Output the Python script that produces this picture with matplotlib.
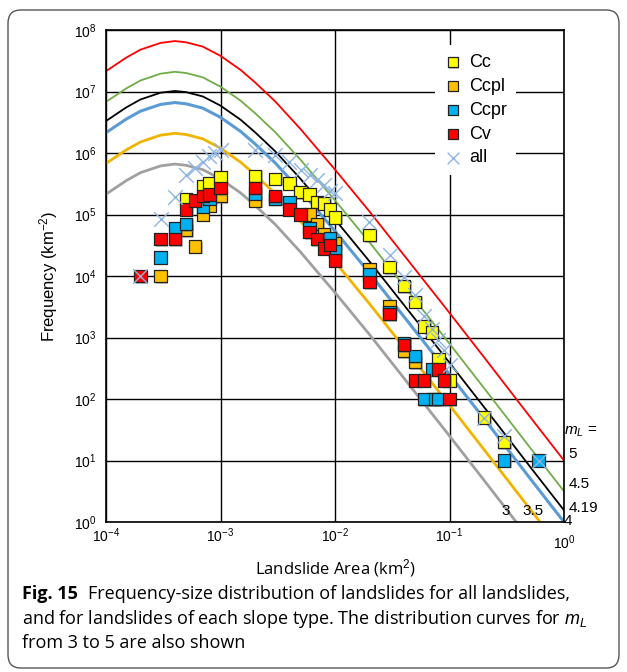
import matplotlib
matplotlib.use('Agg')
import matplotlib.pyplot as plt
import matplotlib.patheffects as pe
import matplotlib.transforms as mtransforms
from matplotlib.patches import FancyBboxPatch

plt.rcParams['font.family'] = ['Liberation Sans', 'DejaVu Sans']
plt.rcParams['mathtext.fontset'] = 'custom'
plt.rcParams['mathtext.rm'] = 'Liberation Sans'
plt.rcParams['mathtext.it'] = 'Liberation Sans:italic'

# distribution curves (m_L = 3 ... 5)
curve_x = [1e-4, 1.5e-4, 2e-4, 3e-4, 4e-4, 5e-4, 7e-4, 1e-3, 1.5e-3, 2e-3,
           3e-3, 5e-3, 1e-2, 2e-2, 5e-2, 0.1, 0.2, 0.5, 1.0]
curve_m5 = [2.14e7, 3.55e7, 4.79e7, 6.17e7, 6.61e7, 6.31e7, 5.37e7, 3.80e7, 2.24e7, 1.41e7,
            6.92e6, 2.45e6, 5.37e5, 1.12e5, 1.29e4, 2.51e3, 479, 52.5, 10]
curve_m45 = [6.77e6, 1.12e7, 1.51e7, 1.95e7, 2.09e7, 2.0e7, 1.70e7, 1.20e7, 7.08e6, 4.46e6,
             2.19e6, 7.75e5, 1.70e5, 3.54e4, 4.08e3, 794, 151, 16.6, 3.16]
curve_m419 = [3.31e6, 5.50e6, 7.42e6, 9.56e6, 1.02e7, 9.77e6, 8.32e6, 5.89e6, 3.47e6, 2.18e6,
              1.07e6, 3.80e5, 8.32e4, 1.73e4, 2.0e3, 389, 74.2, 8.13, 1.55]
curve_m4 = [2.14e6, 3.55e6, 4.79e6, 6.17e6, 6.61e6, 6.31e6, 5.37e6, 3.80e6, 2.24e6, 1.41e6,
            6.92e5, 2.45e5, 5.37e4, 1.12e4, 1.29e3, 251, 47.9, 5.25, 1.0]
curve_m35 = [6.77e5, 1.12e6, 1.51e6, 1.95e6, 2.09e6, 2.0e6, 1.70e6, 1.20e6, 7.08e5, 4.46e5,
             2.19e5, 7.75e4, 1.70e4, 3.54e3, 408, 79.4, 15.1, 1.66, 0.316]
curve_m3 = [2.14e5, 3.55e5, 4.79e5, 6.17e5, 6.61e5, 6.31e5, 5.37e5, 3.80e5, 2.24e5, 1.41e5,
            6.92e4, 2.45e4, 5.37e3, 1.12e3, 129, 25.1, 4.79, 0.525, 0.1]

# landslide data per slope type
cc_x = [5e-4, 7e-4, 8e-4, 1e-3, 2e-3, 3e-3, 4e-3, 5e-3, 6e-3, 7e-3, 8e-3, 9e-3, 1e-2,
        2e-2, 3e-2, 4e-2, 5e-2, 6e-2, 7e-2, 8e-2, 1e-1, 2e-1, 3e-1]
cc_y = [1.8e5, 2.9e5, 3.2e5, 4e5, 4.2e5, 3.8e5, 3.2e5, 2.3e5, 2.1e5, 1.6e5, 1.5e5, 1.2e5, 9e4,
        4.6e4, 1.4e4, 6.9e3, 3.8e3, 1.5e3, 1.2e3, 4.4e2, 2e2, 50, 20]

ccpl_x = [3e-4, 5e-4, 6e-4, 7e-4, 8e-4, 1e-3, 2e-3, 3e-3, 6e-3, 7e-3, 8e-3, 1e-2,
          2e-2, 3e-2, 4e-2, 5e-2, 7e-2]
ccpl_y = [1e4, 5.6e4, 3e4, 1e5, 1.4e5, 2e5, 1.7e5, 1.8e5, 1e5, 7e4, 4.7e4, 3.4e4,
          1.3e4, 3.2e3, 6e2, 4e2, 1e2]

ccpr_x = [3e-4, 4e-4, 5e-4, 7e-4, 8e-4, 2e-3, 3e-3, 4e-3, 6e-3, 9e-3, 1e-2,
          2e-2, 3e-2, 4e-2, 5e-2, 6e-2, 7e-2, 7.5e-2, 8e-2, 3e-1, 6e-1]
ccpr_y = [2e4, 6e4, 7e4, 1.35e5, 1.8e5, 2.2e5, 1.8e5, 1.6e5, 6e4, 4.1e4, 2.5e4,
          1.05e4, 2.6e3, 8e2, 5e2, 1e2, 3e2, 1e2, 1e2, 10, 10]

cv_x = [2e-4, 3e-4, 4e-4, 5e-4, 6e-4, 7e-4, 8e-4, 1e-3, 2e-3, 3e-3, 4e-3, 5e-3, 6e-3,
        7e-3, 8e-3, 9e-3, 1e-2, 2e-2, 3e-2, 4e-2, 5e-2, 6e-2, 8e-2, 9e-2, 1e-1]
cv_y = [1e4, 4e4, 4e4, 1.2e5, 1.7e5, 2e5, 2.1e5, 2.7e5, 2.7e5, 2e5, 1.2e5, 1e5, 5.2e4,
        4e4, 2.8e4, 3.2e4, 1.8e4, 8e3, 2.4e3, 7.5e2, 2e2, 2e2, 3e2, 2e2, 1e2]

all_x = [2e-4, 3e-4, 4e-4, 5e-4, 6e-4, 7e-4, 8e-4, 9e-4, 1e-3, 2e-3, 3e-3, 4e-3, 5e-3,
         6e-3, 7e-3, 8e-3, 9e-3, 1e-2, 2e-2, 3e-2, 4e-2, 5e-2, 6e-2, 7e-2, 8e-2, 9e-2,
         1e-1, 2e-1, 3e-1, 6e-1]
all_y = [1e4, 8.5e4, 1.9e5, 4.4e5, 5.6e5, 7.2e5, 8.8e5, 1e6, 1.1e6, 1.1e6, 9.3e5, 7.2e5, 5.3e5,
         4.4e5, 3.6e5, 3e5, 2.4e5, 2.2e5, 7.6e4, 2.2e4, 9.8e3, 4.9e3, 2.2e3, 1.4e3, 9e2, 6.3e2,
         3.6e2, 50, 25, 10]

fig = plt.figure(figsize=(6.27, 6.72), dpi=100)
ax = fig.add_axes([106/627, 1-522/672, 458/627, 492/672])

# curves
ax.plot(curve_x, curve_m5, color='#FF0000', lw=1.3, zorder=2)
ax.plot(curve_x, curve_m45, color='#70AD47', lw=1.3, zorder=2)
ax.plot(curve_x, curve_m419, color='black', lw=1.3, zorder=2)
ax.plot(curve_x, curve_m4, color='#5B9BD5', lw=2.2, zorder=2)
ax.plot(curve_x, curve_m35, color='#F0B400', lw=2.0, zorder=2)
ax.plot(curve_x, curve_m3, color='#A0A0A0', lw=2.0, zorder=2)

shadow = [pe.SimplePatchShadow(offset=(1, -1), shadow_rgbFace='gray', alpha=0.5), pe.Normal()]
sq = dict(marker='s', s=80, edgecolors='#222222', linewidths=0.9, zorder=3)
s1 = ax.scatter(cc_x, cc_y, c='#FFFF00', label='Cc', **sq)
s2 = ax.scatter(ccpl_x, ccpl_y, c='#FFC000', label='Ccpl', **sq)
s3 = ax.scatter(ccpr_x, ccpr_y, c='#00B0F0', label='Ccpr', **sq)
s4 = ax.scatter(cv_x, cv_y, c='#FF0000', label='Cv', **sq)
for s in (s1, s2, s3, s4):
    s.set_path_effects(shadow)
ax.scatter(all_x, all_y, marker='x', s=110, c='#8DB4E2', linewidths=1.0, label='all', zorder=4)

ax.set_xscale('log')
ax.set_yscale('log')
ax.set_xlim(1e-4, 1)
ax.set_ylim(1, 1e8)
ax.set_xticks([1e-4, 1e-3, 1e-2, 1e-1, 1])
ax.set_yticks([10**i for i in range(9)])
ax.minorticks_off()
ax.grid(True, color='black', lw=1.0)
ax.set_axisbelow(True)
ax.tick_params(axis='y', length=0, labelsize=10, pad=7)
ax.tick_params(axis='x', length=0, labelsize=10, pad=3)
for sp in ax.spines.values():
    sp.set_linewidth(1.2)

# the 10^0 label sits a bit lower, clear of the "4" label
fig.canvas.draw()
last = ax.get_xticklabels()[-1]
last.set_transform(last.get_transform() + mtransforms.ScaledTranslation(0, -5/72, fig.dpi_scale_trans))

ax.set_ylabel('Frequency (km$^{-2}$)', fontsize=12, labelpad=10)
ax.set_xlabel('Landslide Area (km$^2$)', fontsize=12, family='Open Sans')
ax.xaxis.set_label_coords(0.5, -0.072)

leg = ax.legend(loc='upper right', bbox_to_anchor=(0.915, 0.988), fontsize=13, frameon=True,
                fancybox=False, edgecolor='none', framealpha=1, handletextpad=0.4,
                labelspacing=0.38, borderpad=0.5, handlelength=1.0, markerscale=0.8)

# m_L labels on the right
ax.text(0.998, 10**1.46, '$m_L$ =', fontsize=11, va='center', ha='left', clip_on=False)
ax.text(1.1, 10**1.1, '5', fontsize=11, va='center', ha='left', clip_on=False)
ax.text(1.1, 10**0.62, '4.5', fontsize=11, va='center', ha='left', clip_on=False)
ax.text(1.1, 10**0.23, '4.19', fontsize=11, va='center', ha='left', clip_on=False)
ax.text(1.0, 10**0.02, '4', fontsize=11, va='center', ha='left', clip_on=False)
ax.text(0.311, 10**0.18, '3', fontsize=11, va='center', ha='center')
ax.text(0.537, 10**0.18, '3.5', fontsize=11, va='center', ha='center')

# frame and caption
frame = FancyBboxPatch((8/627, 4/672), 611/627, 658/672, boxstyle='round,pad=0,rounding_size=0.02',
                       transform=fig.transFigure, fill=False, edgecolor='#555555', lw=1.0)
fig.patches.append(frame)
cap = dict(fontsize=13, family='Open Sans', va='center', ha='left')
fig.text(22/627, 1-594/672, 'Fig. 15', fontweight='bold', **cap)
fig.text(88/627, 1-594/672, 'Frequency-size distribution of landslides for all landslides,', **cap)
fig.text(22/627, 1-619/672, 'and for landslides of each slope type. The distribution curves for $m_L$', **cap)
fig.text(22/627, 1-643/672, 'from 3 to 5 are also shown', **cap)

fig.savefig('out.png', dpi=100)
